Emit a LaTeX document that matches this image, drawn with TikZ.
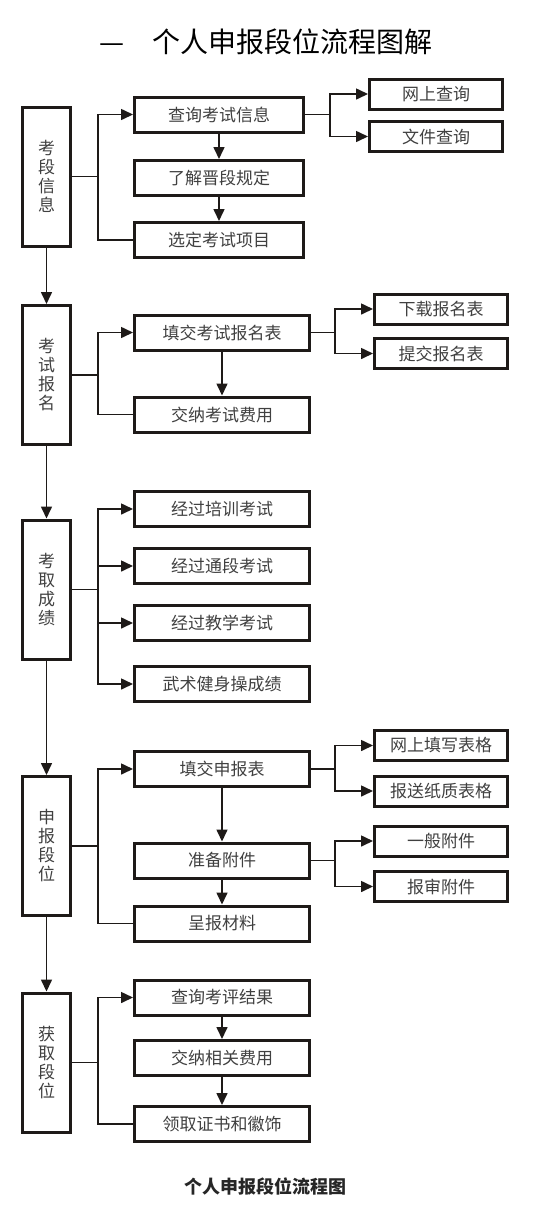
\documentclass[tikz,border=0pt]{standalone}
\usepackage{fontspec}
\setmainfont{Noto Sans CJK SC}
\usetikzlibrary{arrows.meta, positioning}

\definecolor{boxline}{HTML}{1E1A18}
\definecolor{txt}{HTML}{404040}

\begin{document}
\begin{tikzpicture}[
    x=1pt, y=-1pt,
    line width=1.6pt,
    draw=boxline,
    >={Triangle[length=12pt, width=11pt]},
    stage/.style={draw=boxline, line width=3pt, minimum width=48pt, minimum height=139pt,
        inner sep=0pt, align=center, text=txt, font=\fontsize{17}{19}\selectfont},
    task/.style={draw=boxline, line width=3pt, minimum width=175pt, minimum height=35pt,
        inner sep=0pt, text=txt, font=\fontsize{17}{19}\selectfont},
    sub/.style={draw=boxline, line width=3pt, minimum width=133pt, minimum height=30pt,
        inner sep=0pt, text=txt, font=\fontsize{17}{19}\selectfont}
]

\useasboundingbox (0,0) rectangle (550,1219);

\node[font=\fontsize{28}{30}\selectfont] (title) at (266,42) {—　个人申报段位流程图解};

\node[stage] (s1) at (46.5,176.5) {考\\段\\信\\息};
\node[stage] (s2) at (46.5,375) {考\\试\\报\\名};
\node[stage] (s3) at (46.5,589.5) {考\\取\\成\\绩};
\node[stage] (s4) at (46.5,846) {申\\报\\段\\位};
\node[stage] (s5) at (46.5,1062.5) {获\\取\\段\\位};

\node[task, minimum width=169pt] (a1) at (219,114.5) {查询考试信息};
\node[task, minimum width=169pt] (a2) at (219,178) {了解晋段规定};
\node[task, minimum width=169pt] (a3) at (219,240) {选定考试项目};
\node[sub] (b1) at (436,94) {网上查询};
\node[sub] (b2) at (436,136.5) {文件查询};

\node[task] (c1) at (222,332.5) {填交考试报名表};
\node[task] (c2) at (222,414.5) {交纳考试费用};
\node[sub] (d1) at (441,309) {下载报名表};
\node[sub] (d2) at (441,353.5) {提交报名表};

\node[task] (e1) at (222,509) {经过培训考试};
\node[task] (e2) at (222,566) {经过通段考试};
\node[task] (e3) at (222,623) {经过教学考试};
\node[task] (e4) at (222,684) {武术健身操成绩};

\node[task] (f1) at (222,769) {填交申报表};
\node[task] (f2) at (222,860.5) {准备附件};
\node[task] (f3) at (222,923.5) {呈报材料};
\node[sub] (g1) at (441,745.5) {网上填写表格};
\node[sub] (g2) at (441,791) {报送纸质表格};
\node[sub] (g3) at (441,841) {一般附件};
\node[sub] (g4) at (441,886.5) {报审附件};

\node[task] (h1) at (222,997.5) {查询考评结果};
\node[task] (h2) at (222,1058) {交纳相关费用};
\node[task] (h3) at (222,1124) {领取证书和徽饰};

\node[font=\fontsize{18}{20}\selectfont\bfseries, text=black!85] (cap) at (265,1187) {个人申报段位流程图};

\draw[->] (s1) -- (s2);
\draw[->] (s2) -- (s3);
\draw[->] (s3) -- (s4);
\draw[->] (s4) -- (s5);

\draw (s1.east) -- ++(26,0) coordinate (j1);
\draw[->] (j1) |- (a1);
\draw (j1) |- (a3);
\draw[->] (a1) -- (a2);
\draw[->] (a2) -- (a3);
\draw (a1.east) -- ++(25,0) coordinate (k1);
\draw[->] (k1) |- (b1);
\draw[->] (k1) |- (b2);

\draw (s2.east) -- ++(26,0) coordinate (j2);
\draw[->] (j2) |- (c1);
\draw (j2) |- (c2);
\draw[->] (c1) -- (c2);
\draw (c1.east) -- ++(24,0) coordinate (k2);
\draw[->] (k2) |- (d1);
\draw[->] (k2) |- (d2);

\draw (s3.east) -- ++(26,0) coordinate (j3);
\foreach \n in {e1,e2,e3,e4}
    \draw[->] (j3) |- (\n);

\draw (s4.east) -- ++(26,0) coordinate (j4);
\draw[->] (j4) |- (f1);
\draw (j4) |- (f3);
\draw[->] (f1) -- (f2);
\draw[->] (f2) -- (f3);
\draw (f1.east) -- ++(24,0) coordinate (k4);
\draw[->] (k4) |- (g1);
\draw[->] (k4) |- (g2);
\draw (f2.east) -- ++(24,0) coordinate (k5);
\draw[->] (k5) |- (g3);
\draw[->] (k5) |- (g4);

\draw (s5.east) -- ++(26,0) coordinate (j5);
\draw[->] (j5) |- (h1);
\draw (j5) |- (h3);
\draw[->] (h1) -- (h2);
\draw[->] (h2) -- (h3);

\end{tikzpicture}
\end{document}
